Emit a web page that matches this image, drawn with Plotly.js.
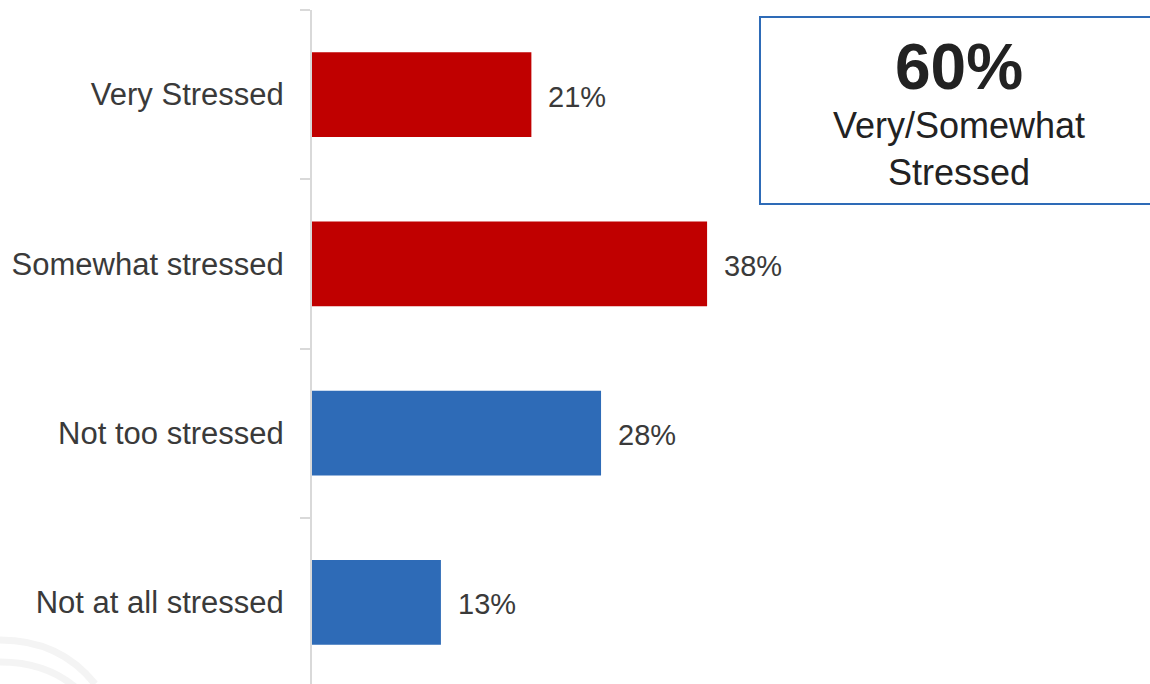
<!DOCTYPE html>
<html>
<head>
<meta charset="utf-8">
<script src="https://cdn.plot.ly/plotly-3.0.1.min.js"></script>
<style>html,body{margin:0;padding:0;background:#fff;overflow:hidden;}#chart{width:1150px;height:687px;}</style>
</head>
<body>
<div id="chart"></div>
<script>
const categories = ["Very Stressed", "Somewhat stressed", "Not too stressed", "Not at all stressed"];
const values = [21.1, 38.0, 27.8, 12.4];
const valueLabels = ["21%", "38%", "28%", "13%"];
const barColors = ["#c00000", "#c00000", "#2e6bb7", "#2e6bb7"];
const calloutValue = "60%";
const calloutText = "Very/Somewhat<br>Stressed";

const FONT = "Liberation Sans, Arial, sans-serif";

const trace = {
  type: "bar",
  orientation: "h",
  x: values,
  y: categories,
  marker: {color: barColors, line: {width: 0}},
  hoverinfo: "none"
};

const annotations = categories.map((c, i) => ({
  x: values[i], y: c, xref: "x", yref: "y",
  text: valueLabels[i], showarrow: false,
  xanchor: "left", yanchor: "middle", xshift: 15, yshift: -2,
  font: {family: FONT, size: 29, color: "#3a3a3a"}
}));

annotations.push({
  x: 0.772, y: 0.9165, xref: "paper", yref: "paper",
  text: "<b>" + calloutValue + "</b>", showarrow: false,
  xanchor: "center", yanchor: "middle",
  font: {family: FONT, size: 64, color: "#222222"}
});
annotations.push({
  x: 0.772, y: 0.795, xref: "paper", yref: "paper",
  text: calloutText, showarrow: false,
  xanchor: "center", yanchor: "middle",
  font: {family: FONT, size: 36, color: "#222222"}
});

const layout = {
  width: 1150, height: 687,
  margin: {l: 312, r: 0, t: 10, b: 0, pad: 0},
  paper_bgcolor: "#ffffff", plot_bgcolor: "#ffffff",
  showlegend: false,
  bargap: 0.5,
  xaxis: {range: [0, 80.6], visible: false, fixedrange: true},
  yaxis: {
    type: "category", autorange: "reversed",
    showline: true, linecolor: "#d9d9d9", linewidth: 2,
    ticks: "outside", tickson: "boundaries", ticklen: 10, tickwidth: 2, tickcolor: "#d9d9d9",
    ticklabelstandoff: 20,
    showgrid: false, zeroline: false,
    tickfont: {family: FONT, size: 31, color: "#3a3a3a"}
  },
  shapes: [
    {
      type: "path", xref: "paper", yref: "paper", layer: "below",
      path: "M -0.3723 0.0694 Q -0.3007 0.0694 -0.2589 0.0044",
      line: {color: "#f4f4f4", width: 7}
    },
    {
      type: "path", xref: "paper", yref: "paper", layer: "below",
      path: "M -0.3723 0.0369 Q -0.3186 0.0369 -0.2828 0.0",
      line: {color: "#f4f4f4", width: 7}
    },
    {
      type: "rect", xref: "paper", yref: "paper",
      x0: 0.5346, x1: 1.012, y0: 0.7136, y1: 0.9896,
      line: {color: "#2e6bb7", width: 2}, fillcolor: "rgba(0,0,0,0)"
    }
  ],
  annotations: annotations
};

Plotly.newPlot("chart", [trace], layout, {displayModeBar: false, staticPlot: true});
</script>
</body>
</html>
